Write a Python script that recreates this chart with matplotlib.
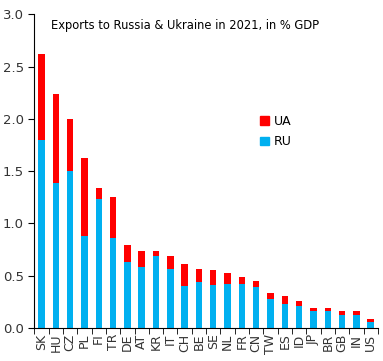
import matplotlib
matplotlib.use("Agg")
import matplotlib.pyplot as plt
import numpy as np
from matplotlib.patches import Patch

countries = ["SK", "HU", "CZ", "PL", "FI", "TR", "DE", "AT", "KR", "IT", "CH", "BE", "SE",
             "NL", "FR", "CN", "TW", "ES", "ID", "JP", "BR", "GB", "IN", "US"]
ru = [1.80, 1.39, 1.50, 0.88, 1.23, 0.86, 0.63, 0.58, 0.69, 0.56, 0.40, 0.44, 0.41,
      0.42, 0.42, 0.39, 0.28, 0.23, 0.21, 0.16, 0.16, 0.12, 0.12, 0.06]
total = [2.62, 2.24, 2.00, 1.63, 1.34, 1.25, 0.79, 0.74, 0.74, 0.69, 0.61, 0.56, 0.55,
         0.53, 0.49, 0.45, 0.33, 0.31, 0.26, 0.19, 0.19, 0.165, 0.165, 0.09]
ua = [t - r for t, r in zip(total, ru)]

RED = "#FF0000"
BLUE = "#00B0F0"

fig = plt.figure(figsize=(3.83, 3.61), dpi=100)
ax = fig.add_axes([0.0896, 0.0914, 0.897, 0.869])

x = np.arange(len(countries))
ax.bar(x, ru, width=0.45, color=BLUE)
ax.bar(x, ua, bottom=ru, width=0.45, color=RED)

ax.set_xlim(-0.5, len(countries) - 0.5)
ax.set_ylim(0, 3.0)
ax.set_yticks(np.arange(0, 3.01, 0.5))
ax.set_yticklabels([f"{v:.1f}" for v in np.arange(0, 3.01, 0.5)])
ax.set_xticks(x)
ax.set_xticklabels(countries, rotation=90)
ax.set_xticks(np.arange(-0.5, len(countries), 1), minor=True)
ax.tick_params(axis="x", which="major", length=0, pad=4, labelsize=9, colors="#333333")
ax.tick_params(axis="x", which="minor", length=4, direction="out")
ax.tick_params(axis="y", length=4, labelsize=9.5, colors="black", labelcolor="#333333")

for s in ["top", "right"]:
    ax.spines[s].set_visible(False)

ax.text(0.05, 0.985, "Exports to Russia & Ukraine in 2021, in % GDP",
        transform=ax.transAxes, fontsize=8.3, va="top", ha="left")

handles = [Patch(color=RED, label="UA"), Patch(color=BLUE, label="RU")]
ax.legend(handles=handles, loc="upper left", bbox_to_anchor=(0.625, 0.715),
          frameon=False, handlelength=0.7, handleheight=0.7, fontsize=9,
          labelspacing=0.6, handletextpad=0.4)

fig.savefig("out.png", dpi=100)
